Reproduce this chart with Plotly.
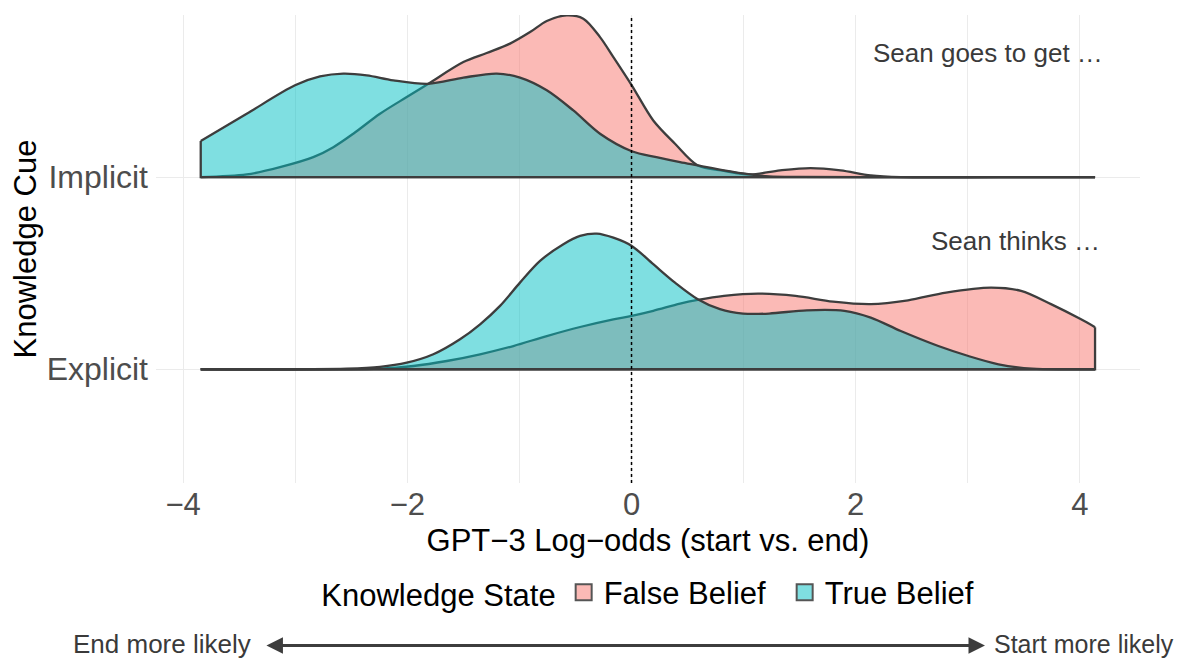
import plotly.graph_objects as go

# ---------------- data ----------------
cue_labels = ["Explicit", "Implicit"]
cue_pos = [1, 2]
state_names = ["False Belief", "True Belief"]

# Implicit cue
imp_false_x = [-3.843, -3.433, -3.136, -2.839, -2.660, -2.482, -2.244, -2.005, -1.813, -1.500,
               -1.292, -1.084, -0.905, -0.756, -0.578, -0.430, -0.281, -0.162, 0.002, 0.194,
               0.388, 0.591, 0.825, 1.057, 1.325, 1.597, 1.865, 2.134, 2.402, 3.287, 4.135]
imp_false_h = [0.000, 0.014, 0.052, 0.104, 0.156, 0.226, 0.330, 0.417, 0.486, 0.599,
               0.646, 0.695, 0.755, 0.813, 0.842, 0.825, 0.729, 0.625, 0.478, 0.295,
               0.174, 0.061, 0.033, 0.014, 0.035, 0.047, 0.035, 0.009, 0.000, 0.000, 0.000]

imp_true_x = [-3.843, -3.433, -3.002, -2.779, -2.571, -2.362, -2.125, -1.813, -1.500, -1.202,
              -0.995, -0.756, -0.519, -0.281, 0.002, 0.222, 0.433, 0.591, 0.825, 1.057,
              1.227, 1.503, 2.395, 4.135]
imp_true_h = [0.188, 0.330, 0.478, 0.524, 0.539, 0.530, 0.504, 0.486, 0.518, 0.539,
              0.518, 0.452, 0.347, 0.226, 0.135, 0.104, 0.078, 0.061, 0.035, 0.014,
              0.004, 0.001, 0.000, 0.000]

# Explicit cue
exp_false_x = [-3.843, -2.244, -1.946, -1.648, -1.351, -1.054, -0.756, -0.459, -0.162, 0.002,
               0.194, 0.433, 0.591, 0.825, 1.128, 1.463, 1.798, 2.134, 2.467, 2.806,
               3.207, 3.475, 3.742, 4.010, 4.135]
exp_false_h = [0.000, 0.003, 0.017, 0.043, 0.078, 0.121, 0.173, 0.220, 0.260, 0.278,
               0.304, 0.342, 0.361, 0.382, 0.394, 0.382, 0.352, 0.339, 0.359, 0.399,
               0.425, 0.408, 0.339, 0.260, 0.219]

exp_true_x = [-3.843, -2.541, -2.244, -2.005, -1.768, -1.530, -1.351, -1.173, -0.995, -0.816,
              -0.608, -0.459, -0.310, -0.162, 0.002, 0.194, 0.388, 0.591, 0.789, 0.995,
              1.227, 1.564, 1.899, 2.134, 2.402, 2.737, 3.005, 3.274, 3.573, 3.912, 4.135]
exp_true_h = [0.000, 0.003, 0.012, 0.034, 0.078, 0.156, 0.234, 0.330, 0.451, 0.564,
              0.651, 0.694, 0.706, 0.685, 0.642, 0.547, 0.451, 0.365, 0.313, 0.290,
              0.290, 0.307, 0.304, 0.269, 0.199, 0.121, 0.069, 0.026, 0.003, 0.000, 0.000]

x_ticks = [-4, -2, 0, 2, 4]
cue_notes = ["Sean thinks \u2026", "Sean goes to get \u2026"]

# ---------------- style ----------------
FONT = "Liberation Sans, Arial, Helvetica, sans-serif"
fills = ["rgba(248,118,109,0.5)", "rgba(0,191,196,0.5)"]
key_fills = ["#FBBAB6", "#7FDFE1"]
outline = "#3d3d3d"
grid = "#EBEBEB"

ridges = {
    "Explicit": [(exp_false_x, exp_false_h), (exp_true_x, exp_true_h)],
    "Implicit": [(imp_false_x, imp_false_h), (imp_true_x, imp_true_h)],
}

fig = go.Figure()

for cue, base in zip(cue_labels, cue_pos):
    for si, (xs, hs) in enumerate(ridges[cue]):
        # invisible baseline to fill to
        fig.add_trace(go.Scatter(x=xs, y=[base] * len(xs), mode="lines",
                                 line=dict(width=0, color=outline),
                                 hoverinfo="skip", showlegend=False))
        # density top with fill
        fig.add_trace(go.Scatter(x=xs, y=[base + h for h in hs], mode="lines",
                                 fill="tonexty", fillcolor=fills[si],
                                 line=dict(color=outline, width=2.3, shape="spline", smoothing=0.9),
                                 name=state_names[si], showlegend=False))
        # outline: end edges and baseline
        fig.add_trace(go.Scatter(x=[xs[0], xs[0], xs[-1], xs[-1]],
                                 y=[base + hs[0], base, base, base + hs[-1]],
                                 mode="lines", line=dict(color=outline, width=2.3),
                                 hoverinfo="skip", showlegend=False))

# legend entries
for si, name in enumerate(state_names):
    fig.add_trace(go.Scatter(x=[None], y=[None], mode="markers", name=name,
                             marker=dict(symbol="square", size=22, color=key_fills[si],
                                         line=dict(color="#555555", width=2))))

# vertical dotted line at 0
fig.add_vline(x=0, line=dict(color="black", width=1.5, dash="dot"))

# notes at each ridge
fig.add_annotation(x=4.224, y=2.646, xref="x", yref="y", text=cue_notes[1], showarrow=False,
                   xanchor="right", yanchor="middle",
                   font=dict(family=FONT, size=26, color="#3a3a3a"))
fig.add_annotation(x=4.20, y=1.667, xref="x", yref="y", text=cue_notes[0], showarrow=False,
                   xanchor="right", yanchor="middle",
                   font=dict(family=FONT, size=26, color="#3a3a3a"))

# arrow below legend
fig.add_annotation(x=3.153, y=-0.347, xref="x", yref="paper",
                   ax=-3.27, ay=0, axref="x", ayref="pixel",
                   text="", showarrow=True, arrowhead=2, arrowside="end+start",
                   arrowsize=1.1, arrowwidth=3, arrowcolor="#3d3d3d")
fig.add_annotation(x=-3.385, y=-0.343, xref="x", yref="paper", text="End more likely",
                   showarrow=False, xanchor="right", yanchor="middle", borderpad=0,
                   font=dict(family=FONT, size=26, color="#3a3a3a"))
fig.add_annotation(x=3.225, y=-0.343, xref="x", yref="paper", text="Start more likely",
                   showarrow=False, xanchor="left", yanchor="middle", borderpad=0,
                   font=dict(family=FONT, size=25, color="#3a3a3a"))

# page body adds an 8px offset, so the figure is 8px smaller and margins shifted
fig.update_layout(
    width=1176, height=651, autosize=False,
    margin=dict(l=148, r=44, t=7, b=176),
    paper_bgcolor="white", plot_bgcolor="white",
    font=dict(family=FONT, size=31, color="black"),
    legend=dict(orientation="h", x=0.515, xanchor="center", y=-0.234, yanchor="middle",
                traceorder="normal", entrywidth=176,
                title=dict(text="Knowledge State", side="left", font=dict(size=31, color="black")),
                font=dict(size=31, color="black"), bgcolor="rgba(0,0,0,0)"),
    xaxis=dict(range=[-4.242, 4.536], tickvals=x_ticks, showgrid=True, gridcolor=grid, gridwidth=1.2,
               minor=dict(dtick=1, tick0=-5, showgrid=True, gridcolor=grid, gridwidth=1.2),
               zeroline=False, showline=False, ticks="", automargin=False,
               tickfont=dict(size=31, color="#4D4D4D"),
               title=dict(text="GPT\u22123 Log\u2212odds (start vs. end)", standoff=8,
                          font=dict(size=31, color="black"))),
    yaxis=dict(range=[0.408, 2.844], tickvals=cue_pos, ticktext=cue_labels,
               showgrid=True, gridcolor=grid, gridwidth=1.2, zeroline=False, showline=False,
               ticks="", automargin=False, ticklabelstandoff=7,
               tickfont=dict(size=32, color="#4D4D4D"),
               title=dict(text="Knowledge Cue", standoff=0, font=dict(size=31, color="black"))),
    showlegend=True,
)

fig.write_html("out.html")
